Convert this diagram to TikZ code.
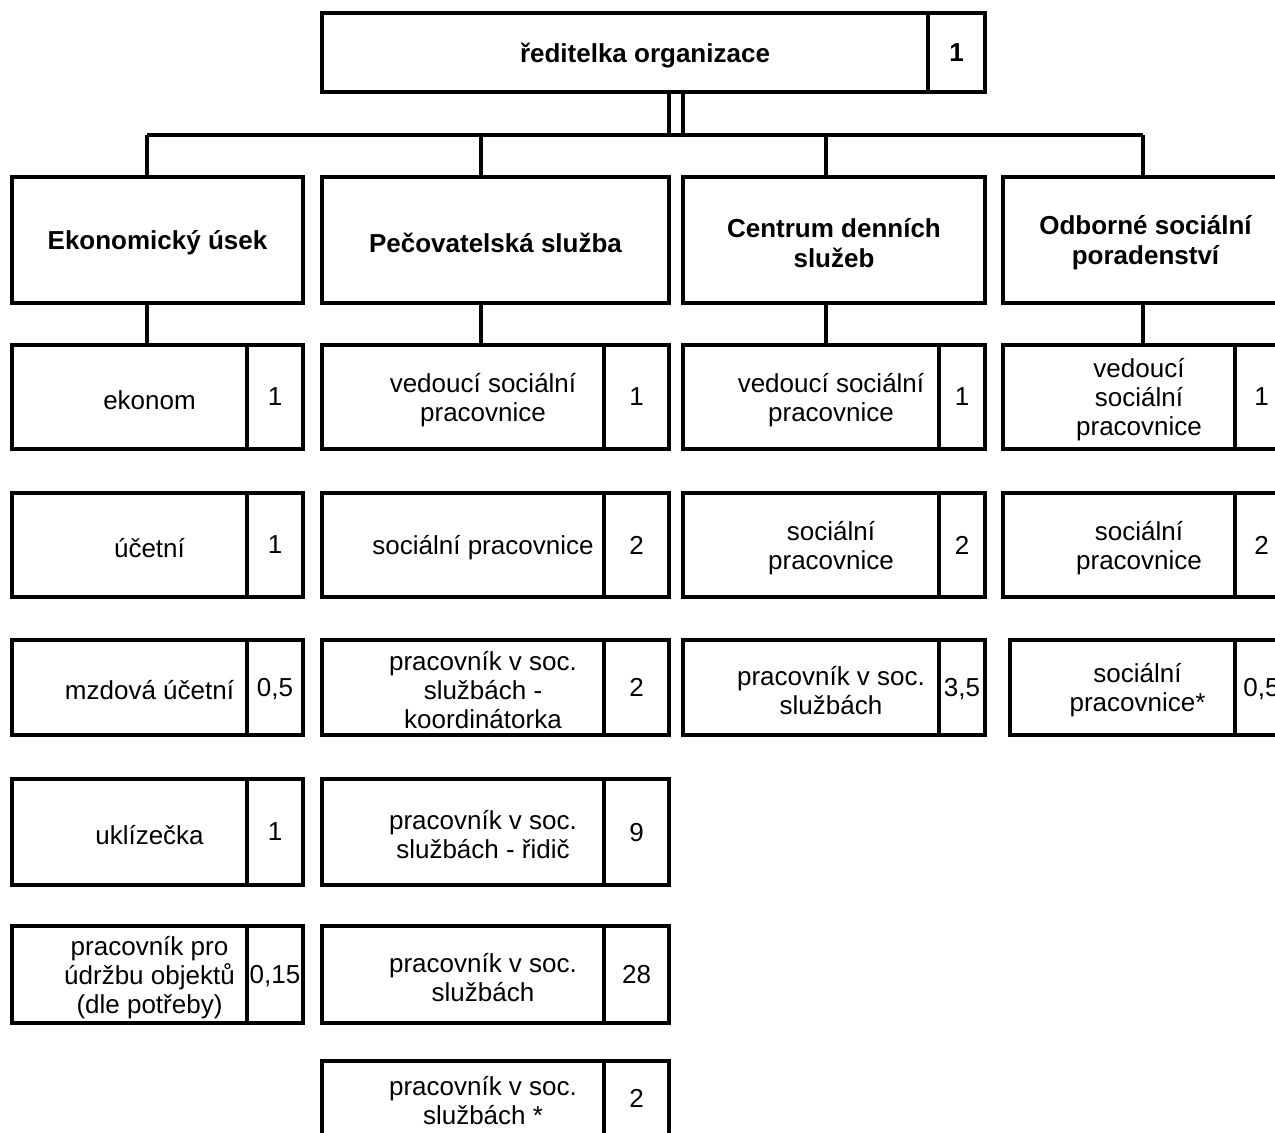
\documentclass[tikz,border=0pt]{standalone}
\usepackage{fontspec}
\setmainfont{Liberation Sans}
\begin{document}
\begin{tikzpicture}[x=1pt, y=-1pt, line width=3.5pt,
  font=\fontsize{26}{29}\selectfont,
  cell/.style={draw, inner sep=0pt, outer sep=0pt, text depth=0pt, anchor=north west},
  txt/.style={align=center, inner sep=0pt, yshift=-3pt},
  bold/.style={font=\fontsize{26}{30}\selectfont\bfseries}]
\clip (0,0) rectangle (1275,1133);
% reditelka
\node [cell, minimum width=606pt, minimum height=79pt] (dir) at (322,13) {};
\node [cell, bold, minimum width=57pt, minimum height=79pt] (dirn) at (dir.north east) {1};
\node [txt, bold] (dirt) at ([xshift=20pt]dir.center) {ředitelka organizace};
\coordinate (dEko) at (147,135);
\coordinate (dPec) at (481,135);
\coordinate (dCen) at (826,135);
\coordinate (dOdb) at (1143,135);
\draw ([xshift=44pt]dir.south) -- ([xshift=44pt]dir.south |- dEko);
\draw ([xshift=58pt]dir.south) -- ([xshift=58pt]dir.south |- dEko);
\draw (dEko) -- (dOdb);
% useky
\node [cell, minimum width=291pt, minimum height=126pt] (eko) at (12,177) {};
\node [txt, bold] (ekot) at (eko.center) {Ekonomický úsek};
\node [cell, minimum width=347pt, minimum height=126pt] (pec) at (322,177) {};
\node [txt, bold] (pect) at (pec.center) {Pečovatelská služba};
\node [cell, minimum width=302pt, minimum height=126pt] (cen) at (683,177) {};
\node [txt, bold] (cent) at (cen.center) {Centrum denních\\služeb};
\node [cell, minimum width=285pt, minimum height=126pt] (odb) at (1003,177) {};
\node [txt, bold] (odbt) at (odb.center) {Odborné sociální\\poradenství};
% ekonomicky usek
\node [cell, minimum width=235pt, minimum height=104pt] (eko1) at (12,345) {};
\node [cell, minimum width=56pt, minimum height=104pt] (eko1n) at (eko1.north east) {1};
\node [txt] (eko1t) at ([xshift=20pt]eko1.center) {ekonom};
\node [cell, minimum width=235pt, minimum height=104pt] (eko2) at (12,493) {};
\node [cell, minimum width=56pt, minimum height=104pt] (eko2n) at (eko2.north east) {1};
\node [txt] (eko2t) at ([xshift=20pt]eko2.center) {účetní};
\node [cell, minimum width=235pt, minimum height=95pt] (eko3) at (12,640) {};
\node [cell, minimum width=56pt, minimum height=95pt] (eko3n) at (eko3.north east) {0,5};
\node [txt] (eko3t) at ([xshift=20pt]eko3.center) {mzdová účetní};
\node [cell, minimum width=235pt, minimum height=106pt] (eko4) at (12,779) {};
\node [cell, minimum width=56pt, minimum height=106pt] (eko4n) at (eko4.north east) {1};
\node [txt] (eko4t) at ([xshift=20pt]eko4.center) {uklízečka};
\node [cell, minimum width=235pt, minimum height=97pt] (eko5) at (12,926) {};
\node [cell, minimum width=56pt, minimum height=97pt] (eko5n) at (eko5.north east) {0,15};
\node [txt] (eko5t) at ([xshift=20pt]eko5.center) {pracovník pro\\údržbu objektů\\(dle potřeby)};
% pecovatelska sluzba
\node [cell, minimum width=282pt, minimum height=104pt] (pec1) at (322,345) {};
\node [cell, minimum width=65pt, minimum height=104pt] (pec1n) at (pec1.north east) {1};
\node [txt] (pec1t) at ([xshift=20pt]pec1.center) {vedoucí sociální\\pracovnice};
\node [cell, minimum width=282pt, minimum height=104pt] (pec2) at (322,493) {};
\node [cell, minimum width=65pt, minimum height=104pt] (pec2n) at (pec2.north east) {2};
\node [txt] (pec2t) at ([xshift=20pt]pec2.center) {sociální pracovnice};
\node [cell, minimum width=282pt, minimum height=95pt] (pec3) at (322,640) {};
\node [cell, minimum width=65pt, minimum height=95pt] (pec3n) at (pec3.north east) {2};
\node [txt] (pec3t) at ([xshift=20pt]pec3.center) {pracovník v soc.\\službách -\\koordinátorka};
\node [cell, minimum width=282pt, minimum height=106pt] (pec4) at (322,779) {};
\node [cell, minimum width=65pt, minimum height=106pt] (pec4n) at (pec4.north east) {9};
\node [txt] (pec4t) at ([xshift=20pt]pec4.center) {pracovník v soc.\\službách - řidič};
\node [cell, minimum width=282pt, minimum height=97pt] (pec5) at (322,926) {};
\node [cell, minimum width=65pt, minimum height=97pt] (pec5n) at (pec5.north east) {28};
\node [txt] (pec5t) at ([xshift=20pt]pec5.center) {pracovník v soc.\\službách};
\node [cell, minimum width=282pt, minimum height=74pt] (pec6) at (322,1061) {};
\node [cell, minimum width=65pt, minimum height=74pt] (pec6n) at (pec6.north east) {2};
\node [txt] (pec6t) at ([xshift=20pt]pec6.center) {pracovník v soc.\\službách *};
% centrum dennich sluzeb
\node [cell, minimum width=256pt, minimum height=104pt] (cen1) at (683,345) {};
\node [cell, minimum width=46pt, minimum height=104pt] (cen1n) at (cen1.north east) {1};
\node [txt] (cen1t) at ([xshift=20pt]cen1.center) {vedoucí sociální\\pracovnice};
\node [cell, minimum width=256pt, minimum height=104pt] (cen2) at (683,493) {};
\node [cell, minimum width=46pt, minimum height=104pt] (cen2n) at (cen2.north east) {2};
\node [txt] (cen2t) at ([xshift=20pt]cen2.center) {sociální\\pracovnice};
\node [cell, minimum width=256pt, minimum height=95pt] (cen3) at (683,640) {};
\node [cell, minimum width=46pt, minimum height=95pt] (cen3n) at (cen3.north east) {3,5};
\node [txt] (cen3t) at ([xshift=20pt]cen3.center) {pracovník v soc.\\službách};
% odborne socialni poradenstvi
\node [cell, minimum width=232pt, minimum height=104pt] (odb1) at (1003,345) {};
\node [cell, minimum width=53pt, minimum height=104pt] (odb1n) at (odb1.north east) {1};
\node [txt] (odb1t) at ([xshift=20pt]odb1.center) {vedoucí\\sociální\\pracovnice};
\node [cell, minimum width=232pt, minimum height=104pt] (odb2) at (1003,493) {};
\node [cell, minimum width=53pt, minimum height=104pt] (odb2n) at (odb2.north east) {2};
\node [txt] (odb2t) at ([xshift=20pt]odb2.center) {sociální\\pracovnice};
\node [cell, minimum width=225pt, minimum height=95pt] (odb3) at (1010,640) {};
\node [cell, minimum width=53pt, minimum height=95pt] (odb3n) at (odb3.north east) {0,5};
\node [txt] (odb3t) at ([xshift=15pt]odb3.center) {sociální\\pracovnice*};
% spojnice
\draw (dEko) -- (dEko |- eko.north);
\draw (dPec) -- (dPec |- pec.north);
\draw (dCen) -- (dCen |- cen.north);
\draw (dOdb) -- (dOdb |- odb.north);
\draw (dEko |- eko.south) -- (dEko |- eko1.north);
\draw (dPec |- pec.south) -- (dPec |- pec1.north);
\draw (dCen |- cen.south) -- (dCen |- cen1.north);
\draw (dOdb |- odb.south) -- (dOdb |- odb1.north);
\end{tikzpicture}
\end{document}
